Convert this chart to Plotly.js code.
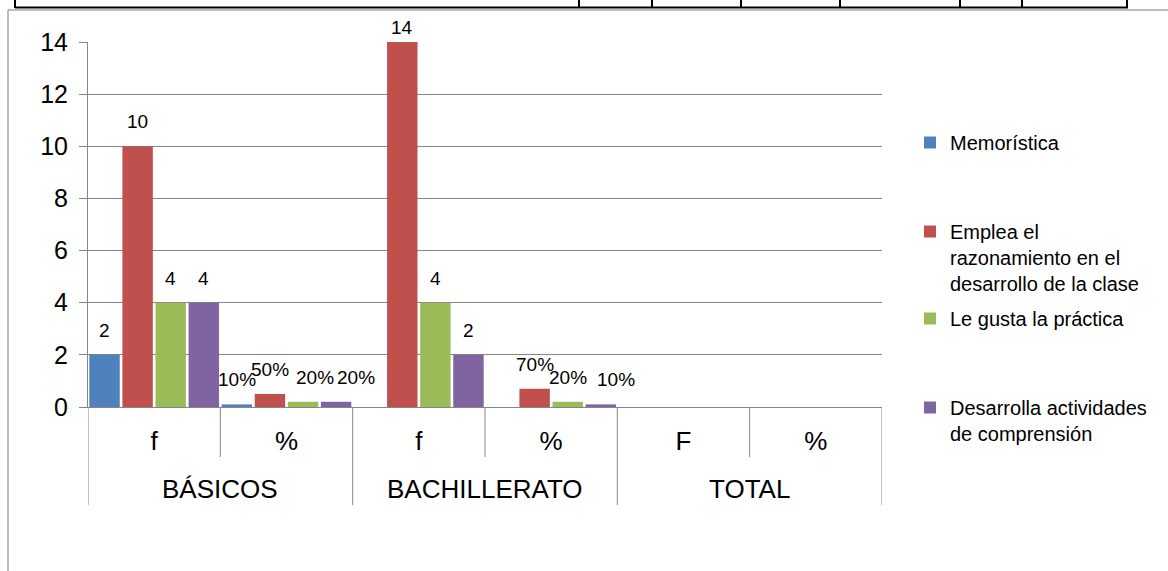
<!DOCTYPE html>
<html>
<head>
<meta charset="utf-8">
<script src="https://cdn.plot.ly/plotly-3.0.1.min.js"></script>
<style>
html,body{margin:0;padding:0;background:#fff;}
#chart{width:1168px;height:571px;}
</style>
</head>
<body>
<div id="chart"></div>
<script>
// ---- data ----
const groupLabels = ['BÁSICOS', 'BACHILLERATO', 'TOTAL'];
const subLabels = ['f', '%', 'f', '%', 'F', '%'];
const seriesNames = [
  'Memorística',
  'Emplea el<br>razonamiento en el<br>desarrollo de la clase',
  'Le gusta la práctica',
  'Desarrolla actividades<br>de comprensión'
];
const memoristica = [2, 0.1, null, null, null, null];
const emplea      = [10, 0.5, 14, 0.7, null, null];
const leGusta     = [4, 0.2, 4, 0.2, null, null];
const desarrolla  = [4, 0.2, 2, 0.1, null, null];
const colors = ['#4F81BD', '#C0504D', '#9BBB59', '#8064A2'];

// ---- helpers for pixel -> paper (plot area 88..882 x, 42..407 y) ----
const L = 88, R = 882, T = 42, B = 407;
const YMAX = 14;
const px = x => (x - L) / (R - L);
const py = y => (B - y) / (B - T);

// small horizontal nudges of crowded data labels (style only), keyed "category,series"
const labelNudge = {'1,2': 12, '1,3': 20, '3,3': 15};

const allSeries = [memoristica, emplea, leGusta, desarrolla];
const xIdx = subLabels.map((_, i) => i);
const legendIds = ['legend', 'legend2', 'legend3', 'legend4'];

const traces = allSeries.map((vals, j) => ({
  type: 'bar',
  x: xIdx,
  y: vals,
  name: seriesNames[j],
  legend: legendIds[j],
  marker: {color: colors[j], line: {width: 0}},
  hoverinfo: 'skip'
}));

const FONT = 'Liberation Sans, Arial, sans-serif';
const LABEL_SIZE = 19;
const annotations = [];
allSeries.forEach((vals, j) => {
  vals.forEach((v, i) => {
    if (v === null) return;
    const txt = subLabels[i] === '%' ? Math.round(v * 100) + '%' : String(v);
    // keep labels inside the chart frame (like the original chart does)
    const barTopPx = B - v * (B - T) / YMAX;
    const shift = Math.min(12, barTopPx - 23 - 17);
    annotations.push({
      x: i + (j - 1.5) * 0.25, xref: 'x',
      y: v, yref: 'y',
      text: txt, showarrow: false,
      yanchor: 'bottom', yshift: shift,
      xshift: labelNudge[i + ',' + j] || 0,
      font: {family: FONT, size: LABEL_SIZE, color: '#000'}
    });
  });
});
groupLabels.forEach((g, k) => {
  annotations.push({
    x: 2 * k + 0.5, xref: 'x',
    y: py(489), yref: 'paper',
    text: g, showarrow: false,
    yanchor: 'middle', xanchor: 'center',
    font: {family: FONT, size: 26, color: '#000'}
  });
});

const gray = '#868686';
const shapes = [];
// category separators
[0.5, 2.5, 4.5].forEach(x => shapes.push({type: 'line', xref: 'x', yref: 'paper', x0: x, x1: x, y0: 0, y1: py(457), line: {color: gray, width: 1}}));
[-0.5, 1.5, 3.5, 5.5].forEach(x => shapes.push({type: 'line', xref: 'x', yref: 'paper', x0: x, x1: x, y0: 0, y1: py(505), line: {color: gray, width: 1}}));
// chart frame
shapes.push({type: 'line', xref: 'paper', yref: 'paper', x0: px(8), x1: px(1170), y0: py(10), y1: py(10), line: {color: '#a6a6a6', width: 1.5}});
shapes.push({type: 'line', xref: 'paper', yref: 'paper', x0: px(8), x1: px(8), y0: py(10), y1: py(575), line: {color: '#a6a6a6', width: 1.5}});
// cut-off table at top
shapes.push({type: 'line', xref: 'paper', yref: 'paper', x0: px(15), x1: px(1128), y0: py(7.5), y1: py(7.5), line: {color: '#000', width: 2}});
[15, 579, 652, 741, 840, 960, 1022, 1127].forEach(x => shapes.push({type: 'line', xref: 'paper', yref: 'paper', x0: px(x), x1: px(x), y0: py(-2), y1: py(8), line: {color: '#000', width: 2}}));

function legendAt(topPx) {
  return {
    x: px(910), xanchor: 'left',
    y: py(topPx), yanchor: 'top',
    valign: 'top',
    bgcolor: 'rgba(0,0,0,0)',
    borderwidth: 0,
    font: {family: FONT, size: 20, color: '#000'}
  };
}

const layout = {
  width: 1168, height: 571,
  margin: {l: L, r: 1168 - R, t: T, b: 571 - B, pad: 0},
  paper_bgcolor: '#fff', plot_bgcolor: '#fff',
  font: {family: FONT, color: '#000'},
  barmode: 'group', bargap: 0, bargroupgap: 0.08,
  showlegend: true,
  legend: legendAt(123),
  legend2: legendAt(212),
  legend3: legendAt(299),
  legend4: legendAt(388),
  xaxis: {
    range: [-0.5, 5.5], tickvals: xIdx, ticktext: subLabels,
    showgrid: false, zeroline: false, showline: true, linecolor: gray, linewidth: 1,
    ticks: '', ticklabelstandoff: 11,
    tickfont: {family: FONT, size: 26, color: '#000'}, fixedrange: true
  },
  yaxis: {
    range: [0, YMAX], dtick: 2, tick0: 0,
    showgrid: true, gridcolor: gray, gridwidth: 1, zeroline: false,
    showline: true, linecolor: gray, linewidth: 1,
    ticks: 'outside', ticklen: 8, tickcolor: gray, ticklabelstandoff: 6,
    tickfont: {family: FONT, size: 25, color: '#000'}, fixedrange: true
  },
  annotations: annotations,
  shapes: shapes
};

Plotly.newPlot('chart', traces, layout, {displayModeBar: false, staticPlot: true});
</script>
</body>
</html>
